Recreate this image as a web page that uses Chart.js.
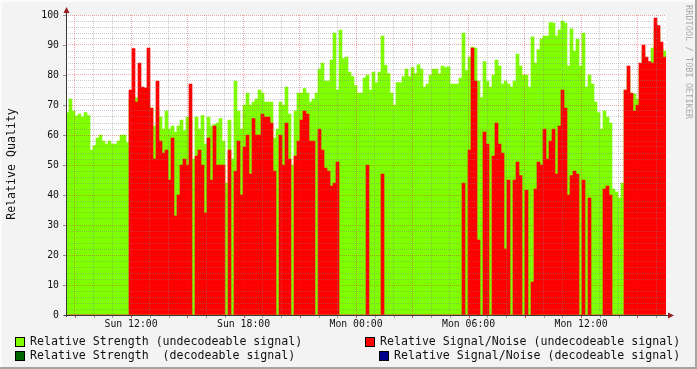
<!DOCTYPE html>
<html>
<head>
<meta charset="utf-8">
<script src="https://cdn.jsdelivr.net/npm/chart.js@4/dist/chart.umd.min.js"></script>
<style>
html,body{margin:0;padding:0;background:#f3f3f3;}
#wrap{position:relative;width:697px;height:369px;overflow:hidden;}
#c{position:absolute;left:0;top:0;}
.t{position:absolute;font-family:"DejaVu Sans Mono",monospace;color:#111;white-space:pre;}
.lg{font-size:11.6px;line-height:14px;}
.bx{position:absolute;width:8px;height:8px;border:1px solid #000;}
#ytitle{font-size:11.6px;left:11px;top:164px;transform:translate(-50%,-50%) rotate(-90deg);}
#wm{font-size:8.3px;color:#a8a8a8;left:684px;top:5px;writing-mode:vertical-rl;letter-spacing:0.2px;}
</style>
</head>
<body>
<div id="wrap">
<canvas id="c" width="697" height="369"></canvas>
<div class="t" id="ytitle">Relative Quality</div>
<div class="t" id="wm">RRDTOOL / TOBI OETIKER</div>
<div id="legend"></div>
</div>
<script>
// ---- time axis (hours counted from Sunday 00:00) ----
const startHour = 8.53;      // left edge of plot
const endHour = 40.53;       // right edge of plot
const xTickHours = [12, 18, 24, 30, 36];
const xTickLabels = ['Sun 12:00', 'Sun 18:00', 'Mon 00:00', 'Mon 06:00', 'Mon 12:00'];
const yTickValues = [0, 10, 20, 30, 40, 50, 60, 70, 80, 90, 100];

// ---- series: one value per sample (200 samples over the 32 h window) ----
const strengthUndecodeable = [
  67.5,72,68,66.3,67,66,67.5,66.5,55,56.5,59,60,58,57,58,57,57,58,60,60,
  57.5,72,72.4,72.4,72,70,70,70,69,63,69,66,62,68,62,63,61,63,65,61.5,
  66,66,52,66,62,66.5,57,66,63,63.5,64,65.5,58,44,65,52,78,68,62,70,
  74,70,71,72,75,74,71,71,71,59,62,71,70,76,67,50,68,74,74,75.5,
  74,71,72,74,82,84,78,78,85,94,75,95,85.5,86,81,79.5,76.5,74,74,79,
  80,75,81,77.5,81,93,83.2,80.5,74,70,77.5,77.5,79.5,82,79.5,82.5,80.5,83.4,82,76,
  77,80,82,82,80.4,83,82.5,82.7,77,77,77,79,94,81.5,86,89.3,89,78,72.5,84.5,
  78,76,80,85,83,77,78,77,76,78,87,83,80,80,76,92.7,84,88.5,92,93,
  93,97.5,97.3,93,95,98,97.3,83,95.4,88,92,83,94,76,80,77,71,67.5,62,68,
  66,64,42,41,39,44,75,80,74,73.6,72,82,88,84,83,89,95,94,89,88
];
const snrUndecodeable = [
  0,0,0,0,0,0,0,0,0,0,0,0,0,0,0,0,0,0,0,0,
  0,75,88.8,71,84,76,75.7,89,69,52,78,58,54,55,45,59,33,40,50,52,
  50,77,0,53,55,50,34,59,45,63,50,50,50,0,55,0,48,58,40,56,
  60,47,65.5,60,60,67,66,66,64,48,0,60,50,64,52,0,53,58,65,68,
  67,58,58,0,62,55,49,48,43,44,51,0,0,0,0,0,0,0,0,0,
  50,0,0,0,0,47,0,0,0,0,0,0,0,0,0,0,0,0,0,0,
  0,0,0,0,0,0,0,0,0,0,0,0,44,0,55,89,78,25,0,61,
  57,0,53,64,57,54,22,45,0,45,51,46.5,0,41.6,0,11,42,51,50,62,
  52,58,62,47,63,75,69,40,46.5,48,47,0,45,0,39,0,0,0,0,42,
  43,40,0,0,0,0,75,83,74,68,70,84,90,86,84.5,84,99,96.5,91,86
];
const strengthDecodeable = [];
const snrDecodeable = [];

const seriesNames = [
  'Relative Strength (undecodeable signal)',
  'Relative Signal/Noise (undecodeable signal)',
  'Relative Strength  (decodeable signal)',
  'Relative Signal/Noise (decodeable signal)'
];
const seriesColors = ['#7FFF00', '#FF0000', '#006400', '#00008B'];

// sample times (regular sampling across the window)
const sampleStep = (endHour - startHour) / strengthUndecodeable.length;
const sampleHours = strengthUndecodeable.map((_, i) => startHour + (i + 0.5) * sampleStep);
const toPts = arr => arr.map((v, i) => ({x: sampleHours[i], y: v}));

const MAJ = 'rgba(225,40,40,0.42)';
const MIN = 'rgba(130,130,130,0.42)';
const FONT = 'DejaVu Sans Mono';

const rrdFrame = {
  id: 'rrdFrame',
  beforeDraw(chart) {
    const {ctx, chartArea: a} = chart;
    ctx.save();
    ctx.fillStyle = '#f3f3f3';
    ctx.fillRect(0, 0, chart.width, chart.height);
    ctx.fillStyle = '#fbfbfb';
    ctx.fillRect(0, 0, chart.width, 2);
    ctx.fillRect(0, 0, 2, chart.height);
    ctx.fillStyle = '#a4a4a4';
    ctx.fillRect(0, chart.height - 2, chart.width, 2);
    ctx.fillRect(chart.width - 2, 0, 2, chart.height);
    ctx.fillStyle = '#ffffff';
    ctx.fillRect(a.left, a.top, a.right - a.left, a.bottom - a.top);
    ctx.restore();
  },
  afterDraw(chart) {
    const {ctx, chartArea: a, scales} = chart;
    ctx.save();
    // small ticks under x axis
    scales.x.ticks.forEach(t => {
      const px = Math.round(scales.x.getPixelForValue(t.value)) + 0.5;
      ctx.strokeStyle = (t.value % 3 === 0) ? 'rgba(200,30,30,0.8)' : 'rgba(120,120,120,0.7)';
      ctx.beginPath(); ctx.moveTo(px, a.bottom + 1); ctx.lineTo(px, a.bottom + 3); ctx.stroke();
    });
    // small ticks left of y axis
    scales.y.ticks.forEach(t => {
      if (t.value % 10 !== 0) return;
      const py = Math.round(scales.y.getPixelForValue(t.value)) + 0.5;
      ctx.strokeStyle = 'rgba(120,120,120,0.8)';
      ctx.beginPath(); ctx.moveTo(a.left - 3, py); ctx.lineTo(a.left, py); ctx.stroke();
    });
    // axes
    ctx.strokeStyle = '#3a3a3a';
    ctx.lineWidth = 1;
    ctx.beginPath();
    ctx.moveTo(a.left + 0.5, a.bottom + 2);
    ctx.lineTo(a.left + 0.5, a.top - 5);
    ctx.moveTo(a.left - 2, a.bottom + 0.5);
    ctx.lineTo(a.right + 6, a.bottom + 0.5);
    ctx.stroke();
    // arrows
    ctx.fillStyle = '#9b1c1c';
    ctx.beginPath();
    ctx.moveTo(a.left + 0.5, a.top - 8);
    ctx.lineTo(a.left - 2.5, a.top - 2);
    ctx.lineTo(a.left + 3.5, a.top - 2);
    ctx.closePath(); ctx.fill();
    ctx.beginPath();
    ctx.moveTo(a.right + 8, a.bottom + 0.5);
    ctx.lineTo(a.right + 2, a.bottom - 2.5);
    ctx.lineTo(a.right + 2, a.bottom + 3.5);
    ctx.closePath(); ctx.fill();
    ctx.restore();
  }
};

const gridHours = [];
for (let h = Math.ceil(startHour); h <= endHour; h++) gridHours.push(h);
const gridQual = [];
for (let v = 0; v <= 100; v += 2) gridQual.push(v);

new Chart(document.getElementById('c'), {
  type: 'bar',
  data: {
    datasets: [
      {label: seriesNames[1], data: toPts(snrUndecodeable), backgroundColor: seriesColors[1], grouped: false, order: 0},
      {label: seriesNames[3], data: toPts(snrDecodeable), backgroundColor: seriesColors[3], grouped: false, order: 1},
      {label: seriesNames[2], data: toPts(strengthDecodeable), backgroundColor: seriesColors[2], grouped: false, order: 2},
      {label: seriesNames[0], data: toPts(strengthUndecodeable), backgroundColor: seriesColors[0], grouped: false, order: 3}
    ]
  },
  options: {
    responsive: false,
    devicePixelRatio: 1,
    animation: false,
    events: [],
    layout: {padding: {left: 0, top: 15, right: 31, bottom: 0}},
    datasets: {bar: {barPercentage: 1, categoryPercentage: 1, borderWidth: 0, borderSkipped: false}},
    plugins: {legend: {display: false}, tooltip: {enabled: false}},
    scales: {
      x: {
        type: 'linear', min: startHour, max: endHour, offset: false,
        afterFit(s) { s.height = 54; },
        afterBuildTicks(s) { s.ticks = gridHours.map(v => ({value: v})); },
        grid: {z: 1, offset: false, drawTicks: false, lineWidth: 1,
               color: c => (c.tick && c.tick.value % 3 === 0) ? MAJ : MIN},
        border: {display: false, dash: [1, 1]},
        ticks: {autoSkip: false, maxRotation: 0, minRotation: 0, padding: 4, color: '#111',
                font: {family: FONT, size: 9.8},
                callback: v => { const k = xTickHours.indexOf(v); return k >= 0 ? xTickLabels[k] : ''; }}
      },
      y: {
        min: 0, max: 100,
        afterFit(s) { s.width = 66; },
        afterBuildTicks(s) { s.ticks = gridQual.map(v => ({value: v})); },
        grid: {z: 1, drawTicks: false, lineWidth: 1,
               color: c => (c.tick && c.tick.value % 10 === 0) ? MAJ : MIN},
        border: {display: false, dash: [1, 1]},
        ticks: {autoSkip: false, padding: 7, color: '#111', font: {family: FONT, size: 9.8},
                callback: v => yTickValues.includes(v) ? String(v) : ''}
      }
    }
  },
  plugins: [rrdFrame]
});

// legend (RRD style, two rows, two columns)
const legendPos = [
  {i: 0, box: [15, 337], text: [30, 334]},
  {i: 1, box: [365, 337], text: [380, 334]},
  {i: 2, box: [15, 351], text: [30, 348]},
  {i: 3, box: [379, 351], text: [394, 348]}
];
const lg = document.getElementById('legend');
legendPos.forEach(p => {
  const b = document.createElement('div');
  b.className = 'bx';
  b.style.left = p.box[0] + 'px'; b.style.top = p.box[1] + 'px';
  b.style.background = seriesColors[p.i];
  lg.appendChild(b);
  const t = document.createElement('div');
  t.className = 't lg';
  t.style.left = p.text[0] + 'px'; t.style.top = p.text[1] + 'px';
  t.textContent = seriesNames[p.i];
  lg.appendChild(t);
});
</script>
</body>
</html>
